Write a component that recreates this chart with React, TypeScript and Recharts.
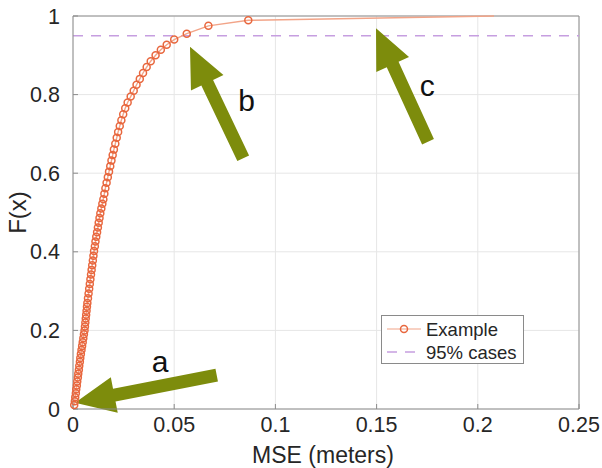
import {
  LineChart,
  Line,
  XAxis,
  YAxis,
  CartesianGrid,
  ReferenceLine,
  ReferenceDot,
  Legend,
} from "recharts";

const mse = [
  0.0006, 0.0009, 0.0011, 0.0014, 0.0016, 0.0019, 0.0021, 0.0024, 0.0026, 0.0029,
  0.0031, 0.0034, 0.0036, 0.0039, 0.0042, 0.0045, 0.0048, 0.0051, 0.0054, 0.0057,
  0.0059, 0.0061, 0.0063, 0.0065, 0.0067, 0.0069, 0.0071,
  0.0074, 0.0077, 0.008, 0.0083, 0.0086, 0.0089, 0.0092, 0.0095, 0.0098, 0.0101,
  0.0104, 0.0108, 0.0111, 0.0115, 0.0119, 0.0123, 0.0127, 0.0131, 0.0135, 0.014,
  0.0145, 0.015,
  0.0155, 0.016, 0.0166, 0.0172, 0.0178, 0.0184, 0.019, 0.0196, 0.0202, 0.0209,
  0.0216, 0.0223, 0.0231, 0.0239, 0.0248, 0.0258, 0.027, 0.0285,
  0.03, 0.0314, 0.033, 0.0346, 0.0364, 0.0384, 0.0408, 0.0434, 0.0463, 0.05,
  0.0562, 0.0669, 0.0866, 0.208,
];
const cdf = [
  0.01, 0.02, 0.03, 0.04, 0.05, 0.06, 0.07, 0.08, 0.09, 0.1,
  0.11, 0.12, 0.13, 0.14, 0.15, 0.16, 0.17, 0.18, 0.19, 0.2,
  0.21, 0.22, 0.23, 0.24, 0.25, 0.26, 0.27,
  0.282, 0.294, 0.306, 0.318, 0.33, 0.342, 0.354, 0.366, 0.378, 0.39,
  0.402, 0.414, 0.426, 0.438, 0.45, 0.462, 0.474, 0.486, 0.498, 0.51,
  0.522, 0.534,
  0.548, 0.562, 0.576, 0.59, 0.604, 0.618, 0.632, 0.646, 0.66, 0.675,
  0.69, 0.705, 0.72, 0.735, 0.75, 0.765, 0.78, 0.795,
  0.81, 0.825, 0.84, 0.855, 0.87, 0.885, 0.9, 0.914, 0.927, 0.94,
  0.955, 0.975, 0.989, 1.0,
];
const xTicks = [0, 0.05, 0.1, 0.15, 0.2, 0.25];
const yTicks = [0, 0.2, 0.4, 0.6, 0.8, 1];
const threshold = 0.95;

const seriesName = "Example";
const thresholdName = "95% cases";

// annotation arrows (tail -> tip) and their letters, in data units
const arrowIds = ["a", "b", "c"];
const arrowTail = [
  [0.071, 0.0865],
  [0.0841, 0.638],
  [0.1754, 0.68],
];
const arrowTip = [
  [0.001, 0.016],
  [0.0578, 0.922],
  [0.1497, 0.969],
];
const letterPos = [
  [0.043, 0.12],
  [0.0858, 0.786],
  [0.175, 0.822],
];

const data = mse.map((x, i) => ({ x, f: cdf[i] }));

const FONT = '"Liberation Sans", Arial, Helvetica, sans-serif';
const LINE = "#f2a488";
const MARK = "#e8673e";
const DASH = "#c69ee0";
const GREEN = "#7d8c0c";
const AXIS = "#8c8c8c";
const TEXT = "#262626";

const Arrow = (p: any) => {
  const { x1, y1, x2, y2 } = p;
  const dx = x2 - x1;
  const dy = y2 - y1;
  const len = Math.hypot(dx, dy) || 1;
  const ux = dx / len;
  const uy = dy / len;
  const nx = -uy;
  const ny = ux;
  const head = 40;
  const hw = 18;
  const sw = 6.5;
  const bx = x2 - ux * head;
  const by = y2 - uy * head;
  const pts = [
    [x1 + nx * sw, y1 + ny * sw],
    [bx + nx * sw, by + ny * sw],
    [bx + nx * hw, by + ny * hw],
    [x2, y2],
    [bx - nx * hw, by - ny * hw],
    [bx - nx * sw, by - ny * sw],
    [x1 - nx * sw, y1 - ny * sw],
  ];
  return <polygon points={pts.map((q) => q.join(",")).join(" ")} fill={GREEN} />;
};

const LegendBox = () => (
  <div
    style={{
      width: 141,
      height: 47,
      border: "1px solid #8a8a8a",
      background: "#fff",
    }}
  >
    <svg width={141} height={47} style={{ display: "block" }}>
      <line x1={5} x2={39} y1={13} y2={13} stroke={LINE} strokeWidth={1.2} />
      <circle cx={22} cy={13} r={3.5} fill="none" stroke={MARK} strokeWidth={1.5} />
      <text x={44} y={13} dominantBaseline="central" fontFamily={FONT} fontSize={18.5} fill={TEXT}>
        {seriesName}
      </text>
      <line
        x1={5}
        x2={39}
        y1={36}
        y2={36}
        stroke={DASH}
        strokeWidth={1.5}
        strokeDasharray="10 8"
      />
      <text x={44} y={36} dominantBaseline="central" fontFamily={FONT} fontSize={18.5} fill={TEXT}>
        {thresholdName}
      </text>
    </svg>
  </div>
);

const App = () => {
  return (
    <div style={{ position: "absolute", left: 0, top: 0, background: "#fff" }}>
      <LineChart
        width={602}
        height={468}
        data={data}
        margin={{ top: 16, right: 23, bottom: 0, left: 0 }}
      >
        <CartesianGrid stroke="#e6e6e6" strokeWidth={1} />
        <XAxis
          dataKey="x"
          type="number"
          domain={[0, 0.25]}
          ticks={xTicks}
          height={59}
          stroke={AXIS}
          tickSize={-5}
          tickMargin={13}
          tick={{ fill: TEXT, fontSize: 21.5, fontFamily: FONT }}
          label={(p: any) => {
            const vb = p.viewBox;
            return (
              <text
                x={vb.x + vb.width / 2 - 3}
                y={vb.y + 46}
                textAnchor="middle"
                dominantBaseline="central"
                fontFamily={FONT}
                fontSize={23}
                fill={TEXT}
              >
                MSE (meters)
              </text>
            );
          }}
        />
        <YAxis
          type="number"
          domain={[0, 1]}
          ticks={yTicks}
          width={73}
          stroke={AXIS}
          tickSize={-5}
          tickMargin={18}
          tick={{ fill: TEXT, fontSize: 21.5, fontFamily: FONT }}
          label={(p: any) => {
            const vb = p.viewBox;
            const cx = 17;
            const cy = vb.y + vb.height / 2;
            return (
              <text
                x={cx}
                y={cy}
                transform={`rotate(-90 ${cx} ${cy})`}
                textAnchor="middle"
                dominantBaseline="central"
                fontFamily={FONT}
                fontSize={24}
                fill={TEXT}
              >
                F(x)
              </text>
            );
          }}
        />
        {/* box edges on top and right, as in the source figure */}
        <ReferenceLine y={1} stroke={AXIS} strokeWidth={1} />
        <ReferenceLine x={0.25} stroke={AXIS} strokeWidth={1} />
        <ReferenceLine
          y={threshold}
          stroke={DASH}
          strokeWidth={1.5}
          strokeDasharray="10 8"
        />
        <Line
          dataKey="f"
          type="linear"
          stroke={LINE}
          strokeWidth={1.4}
          isAnimationActive={false}
          dot={(p: any) =>
            p.index === mse.length - 1 ? (
              <g key={p.index} />
            ) : (
              <circle
                key={p.index}
                cx={p.cx}
                cy={p.cy}
                r={3.5}
                fill="none"
                stroke={MARK}
                strokeWidth={1.5}
              />
            )
          }
          activeDot={false}
        />
        {arrowIds.map((id, i) => (
          <ReferenceLine
            key={`arrow-${id}`}
            segment={[
              { x: arrowTail[i][0], y: arrowTail[i][1] },
              { x: arrowTip[i][0], y: arrowTip[i][1] },
            ]}
            shape={Arrow}
          />
        ))}
        {arrowIds.map((id, i) => (
          <ReferenceDot
            key={`label-${id}`}
            x={letterPos[i][0]}
            y={letterPos[i][1]}
            r={0}
            shape={(p: any) => (
              <text
                x={p.cx}
                y={p.cy}
                textAnchor="middle"
                dominantBaseline="central"
                fontFamily={FONT}
                fontSize={30}
                fill="#111"
              >
                {id}
              </text>
            )}
          />
        ))}
        <Legend
          layout="horizontal"
          verticalAlign="middle"
          align="center"
          wrapperStyle={{ left: 381, top: 315, width: 143, height: 49 }}
          content={() => <LegendBox />}
        />
      </LineChart>
    </div>
  );
};

export default App;
